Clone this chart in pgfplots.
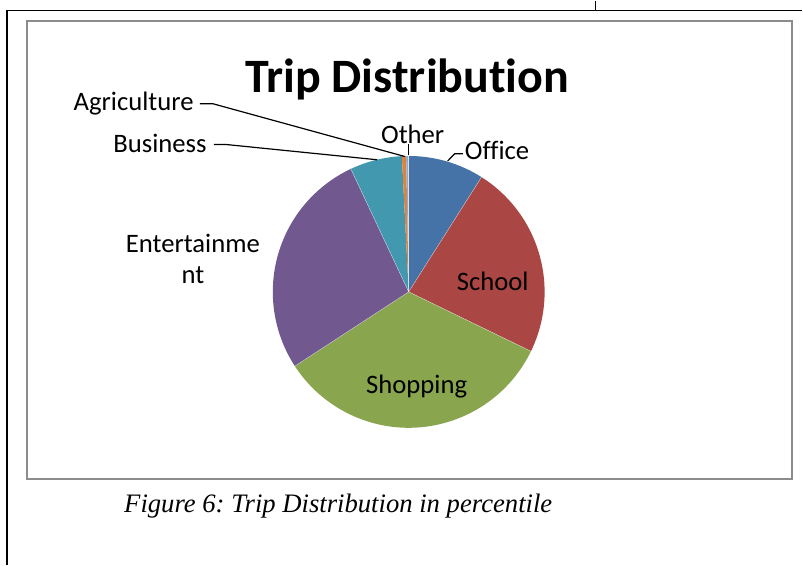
\documentclass[border=0pt]{standalone}
\usepackage{pgfplots}
\usepackage{pgfplotstable}
\pgfplotsset{compat=1.18}
\usepackage{fontspec}
\setmainfont{Carlito}[Ligatures={NoCommon}]
\newfontfamily\capfont{Liberation Serif}
\definecolor{c0}{HTML}{4572A7}
\definecolor{c1}{HTML}{AA4643}
\definecolor{c2}{HTML}{89A54E}
\definecolor{c3}{HTML}{71588F}
\definecolor{c4}{HTML}{4198AF}
\definecolor{c5}{HTML}{DB843D}
\definecolor{c6}{HTML}{93A9CF}
\definecolor{framegray}{HTML}{8C8C8C}
\pgfplotstableread{
name value
Office 9.0
School 23.2
Shopping 33.6
Entertainment 27.2
Business 6.2
Agriculture 0.5
Other 0.3
}\piedata
\gdef\cum{90}%
\pgfplotstableforeachcolumnelement{value}\of\piedata\as\v{%
  \pgfmathsetmacro\endang{\cum-3.6*\v}%
  \expandafter\xdef\csname sa\pgfplotstablerow\endcsname{\cum}%
  \expandafter\xdef\csname ea\pgfplotstablerow\endcsname{\endang}%
  \xdef\cum{\endang}%
}%
\frenchspacing
\begin{document}
\begin{tikzpicture}
\begin{axis}[
  scale only axis, width=602.25pt, height=423.75pt,
  xmin=0, xmax=803, ymin=0, ymax=565,
  hide axis, clip=false]
\fill[white] (axis cs:0,0) rectangle (axis cs:803,565);
% page frame
\draw[black, line width=0.9pt] (axis cs:7,0) -- (axis cs:7,555) -- (axis cs:803,555);
\draw[black, line width=0.9pt] (axis cs:596,555) -- (axis cs:596,565);
% chart area
\draw[framegray, line width=1.6pt] (axis cs:27,86) rectangle (axis cs:793,545);
% pie
\pgfplotsinvokeforeach{0,...,6}{%
  \fill[c#1] (axis cs:409,273.5) -- ++(\csname sa#1\endcsname:102pt)
    arc[start angle=\csname sa#1\endcsname, end angle=\csname ea#1\endcsname, radius=102pt] -- cycle;
}
\pgfplotsinvokeforeach{0,...,4}{%
  \draw[white, opacity=0.6, line width=0.3pt] (axis cs:409,273.5) -- ++(\csname sa#1\endcsname:102pt);
}
% title
\node[anchor=base, inner sep=0pt, font=\bfseries\fontsize{36}{40}\selectfont] at (axis cs:407.4,473.5) {Trip Distribution};
% labels
\begin{scope}[every node/.style={font=\fontsize{20}{22}\selectfont, inner sep=0pt}]
\node[anchor=base east] at (axis cs:194,455) {Agriculture};
\node[anchor=base east] at (axis cs:207,413.3) {Business};
\node[anchor=base] at (axis cs:413,422.3) {Other};
\node[anchor=base west] at (axis cs:465,405.7) {Office};
\node[anchor=base] at (axis cs:193,312.5) {Entertainme};
\node[anchor=base] at (axis cs:193,281.5) {nt};
\node[anchor=base] at (axis cs:493,275) {School};
\node[anchor=base] at (axis cs:417,172) {Shopping};
\end{scope}
% leader lines
\draw[black, line width=0.9pt] (axis cs:200,461.7) -- (axis cs:213.3,461.7) -- (axis cs:405,409);
\draw[black, line width=0.9pt] (axis cs:214,421) -- (axis cs:226,421) -- (axis cs:377.5,405.7);
\draw[black, line width=0.9pt] (axis cs:408.5,421) -- (axis cs:408.5,410);
\draw[black, line width=0.9pt] (axis cs:463.3,411.7) -- (axis cs:455,411.7) -- (axis cs:448,404.5);
% caption
\node[anchor=base, inner sep=0pt, font=\capfont\itshape\fontsize{20}{22}\selectfont] at (axis cs:338.5,53) {Figure 6: Trip Distribution in percentile};
\end{axis}
\end{tikzpicture}
\end{document}
